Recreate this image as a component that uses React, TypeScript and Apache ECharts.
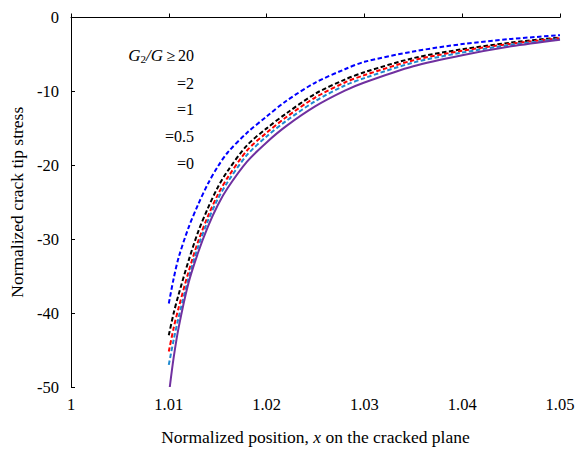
import React, { useEffect, useRef } from "react";
import * as echarts from "echarts";

const xs = [1.01, 1.0105, 1.011, 1.012, 1.013, 1.014, 1.015, 1.016, 1.018, 1.02, 1.022, 1.025, 1.028, 1.03, 1.035, 1.04, 1.045, 1.05];
const ge20 = [-38.7, -35.3, -32.5, -28.5, -25.3, -22.5, -20.2, -18.3, -15.6, -13.4, -11.3, -8.8, -7.0, -6.0, -4.6, -3.6, -2.9, -2.4];
const eq2 = [-43.0, -40.0, -37.5, -33.0, -29.0, -25.8, -23.0, -20.8, -17.3, -15.0, -13.0, -10.3, -8.4, -7.4, -5.5, -4.3, -3.4, -2.7];
const eq1 = [-45.2, -42.0, -39.3, -34.5, -30.3, -26.9, -24.0, -21.7, -18.0, -15.6, -13.5, -10.8, -8.8, -7.8, -5.8, -4.5, -3.55, -2.8];
const eq05 = [-47.0, -43.6, -40.6, -35.4, -31.0, -27.5, -24.6, -22.3, -18.6, -16.1, -14.0, -11.3, -9.2, -8.2, -6.1, -4.75, -3.7, -2.9];
const xs0 = [1.0101, 1.0105, 1.011, 1.012, 1.013, 1.014, 1.015, 1.016, 1.018, 1.02, 1.022, 1.025, 1.028, 1.03, 1.035, 1.04, 1.045, 1.05];
const eq0 = [-50.0, -46.0, -42.0, -36.0, -31.8, -28.3, -25.4, -23.1, -19.5, -16.9, -14.7, -12.0, -9.9, -8.8, -6.6, -5.1, -3.9, -3.0];

const legendLabels = ["=2", "=1", "=0.5", "=0"];

const FONT = "'Liberation Serif', 'Times New Roman', serif";

const pair = (x: number[], y: number[]) => x.map((v, i) => [v, y[i]]);

export default function App() {
  const ref = useRef<HTMLDivElement>(null);
  useEffect(() => {
    document.body.style.margin = "0";
    if (!ref.current) return;
    const chart = echarts.init(ref.current, undefined, { renderer: "svg" });
    const dashed = (name: string, color: string, data: number[][]) => ({
      name,
      type: "line",
      data,
      showSymbol: false,
      smooth: 0.3,
      lineStyle: { color, width: 2, type: [4.5, 2.5] },
    });
    chart.setOption({
      animation: false,
      textStyle: { fontFamily: FONT },
      grid: { left: 71, right: 26, top: 17.5, bottom: 62 },
      xAxis: {
        type: "value",
        min: 1,
        max: 1.05,
        interval: 0.01,
        splitLine: { show: false },
        axisLine: { lineStyle: { color: "#000", width: 1 } },
        axisTick: { inside: true, length: 4, lineStyle: { color: "#000" } },
        axisLabel: {
          color: "#000",
          fontFamily: FONT,
          fontSize: 16.5,
          margin: 9,
          formatter: (v: number) => String(Math.round(v * 100) / 100),
        },
        name: "Normalized position, {i|x} on the cracked plane",
        nameLocation: "middle",
        nameGap: 41,
        nameTextStyle: {
          color: "#000",
          fontFamily: FONT,
          fontSize: 17.5,
          rich: { i: { fontStyle: "italic", fontFamily: FONT, fontSize: 17.5, color: "#000" } },
        },
      },
      yAxis: {
        type: "value",
        min: -50,
        max: 0,
        interval: 10,
        splitLine: { show: false },
        axisLine: { show: true, lineStyle: { color: "#000", width: 1 } },
        axisTick: { show: true, inside: true, length: 4, lineStyle: { color: "#000" } },
        axisLabel: { color: "#000", fontFamily: FONT, fontSize: 16.5, margin: 12 },
        name: "Normalized crack tip stress",
        nameLocation: "middle",
        nameGap: 40,
        nameTextStyle: { color: "#000", fontFamily: FONT, fontSize: 17.5 },
      },
      series: [
        dashed("≥20", "#0000ff", pair(xs, ge20)),
        dashed("=2", "#000000", pair(xs, eq2)),
        dashed("=1", "#ff0000", pair(xs, eq1)),
        dashed("=0.5", "#1e8ad0", pair(xs, eq05)),
        {
          name: "=0",
          type: "line",
          data: pair(xs0, eq0),
          showSymbol: false,
          smooth: 0.3,
          lineStyle: { color: "#7030a0", width: 2 },
        },
      ],
      graphic: [
        {
          type: "text",
          x: 163,
          y: 55,
          style: {
            text: "{i|G}{s|2}{i|/G}",
            fill: "#000",
            font: `17px ${FONT}`,
            align: "right",
            verticalAlign: "middle",
            rich: {
              i: { fontStyle: "italic", fontFamily: FONT, fontSize: 17, fill: "#000", lineHeight: 19 },
              s: { fontFamily: FONT, fontSize: 11, fill: "#000", verticalAlign: "bottom", lineHeight: 14 },
            },
          },
        },
        {
          type: "text",
          x: 166.5,
          y: 55,
          style: { text: "≥", fill: "#000", font: `16px ${FONT}`, align: "left", verticalAlign: "middle" },
        },
        {
          type: "text",
          x: 194,
          y: 55,
          style: { text: "20", fill: "#000", font: `16px ${FONT}`, align: "right", verticalAlign: "middle" },
        },
        ...legendLabels.map((t, i) => ({
          type: "text",
          x: 194,
          y: 83 + i * 26.8,
          style: { text: t, fill: "#000", font: `16px ${FONT}`, align: "right", verticalAlign: "middle" },
        })),
      ],
    });
    return () => chart.dispose();
  }, []);
  return <div ref={ref} style={{ width: 586, height: 451 }} />;
}
